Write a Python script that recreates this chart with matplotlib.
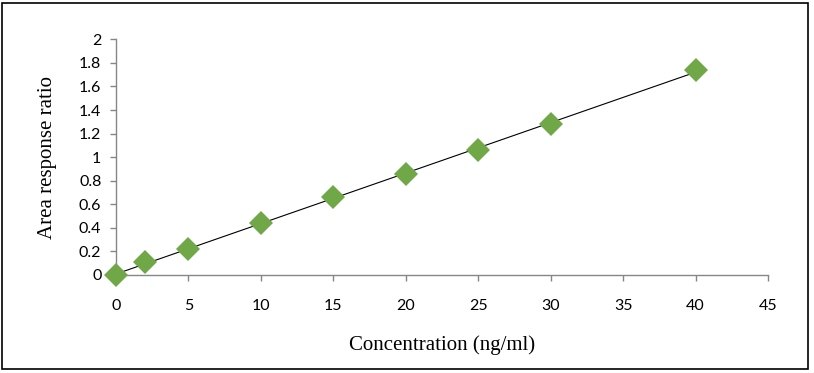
import numpy as np
import matplotlib
matplotlib.use("Agg")
import matplotlib.pyplot as plt
import matplotlib.patches as mpatches
from matplotlib.ticker import FuncFormatter

# calibration data
conc = [0, 2, 5, 10, 15, 20, 25, 30, 40]
ratio = [0.0, 0.11, 0.22, 0.44, 0.66, 0.86, 1.06, 1.28, 1.74]

x_ticks = [0, 5, 10, 15, 20, 25, 30, 35, 40, 45]
y_ticks = [0, 0.2, 0.4, 0.6, 0.8, 1.0, 1.2, 1.4, 1.6, 1.8, 2.0]

W, H, DPI = 814, 373, 100
fig = plt.figure(figsize=(W / DPI, H / DPI), dpi=DPI)
ax = fig.add_axes([116 / W, 1 - 275 / H, (768 - 116) / W, (275 - 39.3) / H])

# outer chart border
fig.patches.append(mpatches.Rectangle((2 / W, 4 / H), 806 / W, 366 / H,
                                      transform=fig.transFigure, fill=False,
                                      edgecolor="black", linewidth=1.2))

# linear trendline
slope, icpt = np.polyfit(conc, ratio, 1)
xs = np.array([min(conc), max(conc)])
ax.plot(xs, slope * xs + icpt, color="black", linewidth=0.8, zorder=2)

ax.plot(conc, ratio, linestyle="none", marker="D", markersize=12.5,
        color="#70A848", markeredgewidth=0, zorder=3, clip_on=False)

ax.set_xlim(0, 45)
ax.set_ylim(0, 2)
ax.set_xticks(x_ticks)
ax.set_yticks(y_ticks)
ax.yaxis.set_major_formatter(FuncFormatter(lambda v, p: f"{v:g}"))

for s in ["top", "right"]:
    ax.spines[s].set_visible(False)
for s in ["left", "bottom"]:
    ax.spines[s].set_color("#868686")
    ax.spines[s].set_linewidth(1.0)

ax.tick_params(axis="both", direction="out", length=4.5, width=1.0,
               color="#868686", labelsize=11.5, labelcolor="black")
ax.tick_params(axis="x", pad=13)
ax.tick_params(axis="y", pad=6)
for lbl in ax.get_xticklabels() + ax.get_yticklabels():
    lbl.set_family("Lato")

ax.set_xlabel("Concentration (ng/ml)", family="Liberation Serif", fontsize=15, labelpad=16)
ax.set_ylabel("Area response ratio", family="Liberation Serif", fontsize=15, labelpad=16)

fig.savefig("out.png", dpi=DPI)
